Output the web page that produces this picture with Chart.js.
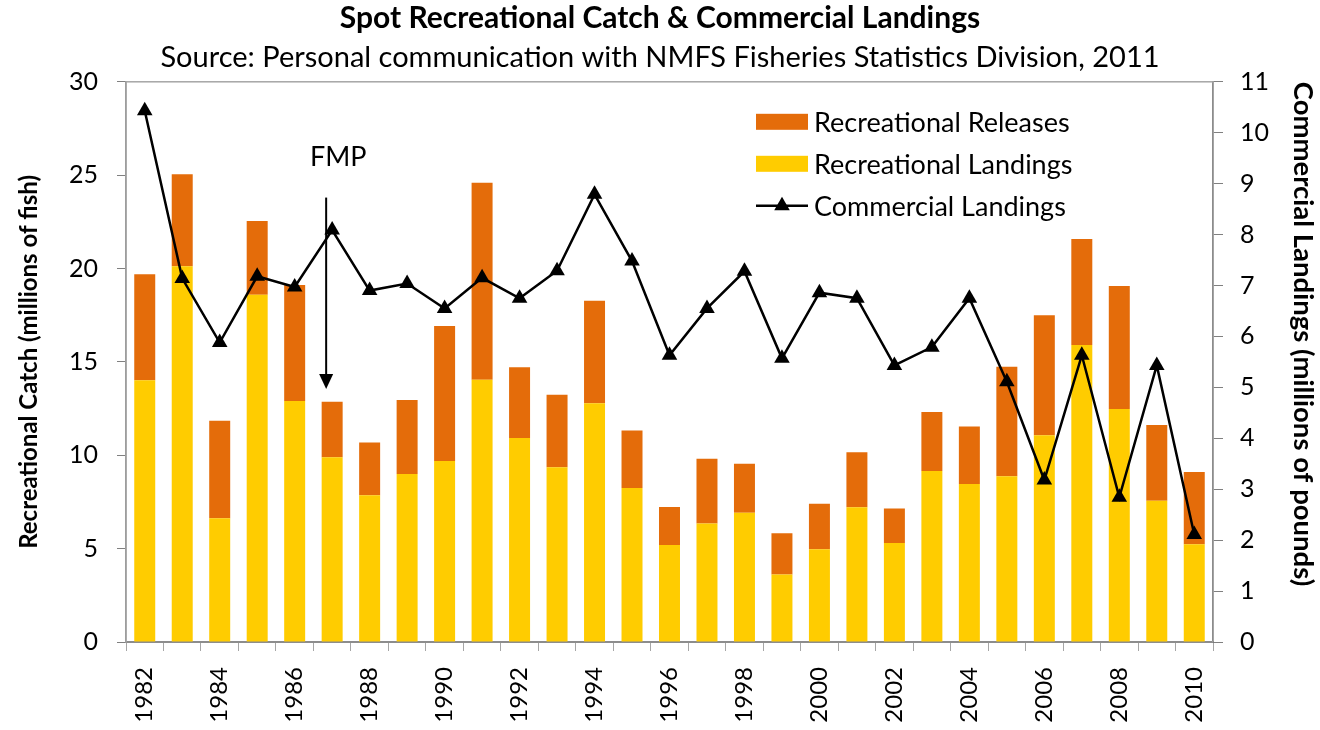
<!DOCTYPE html>
<html>
<head>
<meta charset="utf-8">
<script src="https://cdn.jsdelivr.net/npm/chart.js@4.4.1/dist/chart.umd.min.js"></script>
<style>
html,body{margin:0;padding:0;background:#fff;}
#wrap{width:1320px;height:730px;position:relative;}
</style>
</head>
<body>
<div id="wrap"><canvas id="c" width="1320" height="730"></canvas></div>
<script>
// ---- Data ----
const years = ['1982','1983','1984','1985','1986','1987','1988','1989','1990','1991','1992','1993','1994','1995','1996','1997','1998','1999','2000','2001','2002','2003','2004','2005','2006','2007','2008','2009','2010'];
const xTickLabels = ['1982','1984','1986','1988','1990','1992','1994','1996','1998','2000','2002','2004','2006','2008','2010'];
// Recreational landings (millions of fish)
const recLandings = [14.02, 20.12, 6.63, 18.60, 12.90, 9.90, 7.86, 9.00, 9.69, 14.05, 10.92, 9.36, 12.79, 8.25, 5.20, 6.34, 6.92, 3.61, 4.97, 7.21, 5.30, 9.16, 8.46, 8.87, 11.07, 15.90, 12.48, 7.56, 5.24];
// Recreational releases (millions of fish)
const recReleases = [5.67, 4.93, 5.22, 3.95, 6.22, 2.97, 2.82, 3.96, 7.23, 10.55, 3.80, 3.88, 5.48, 3.08, 2.03, 3.48, 2.63, 2.22, 2.44, 2.95, 1.85, 3.16, 3.08, 5.87, 6.43, 5.68, 6.58, 4.06, 3.86];
// Commercial landings (millions of pounds)
const commLandings = [10.43, 7.14, 5.88, 7.18, 6.97, 8.09, 6.90, 7.04, 6.55, 7.15, 6.75, 7.29, 8.79, 7.48, 5.63, 6.55, 7.28, 5.57, 6.86, 6.75, 5.43, 5.79, 6.75, 5.11, 3.18, 5.63, 2.84, 5.43, 2.11];
const leftTicks = [0, 5, 10, 15, 20, 25, 30];
const rightTicks = [0, 1, 2, 3, 4, 5, 6, 7, 8, 9, 10, 11];
const fmpYear = '1987';
const fmpArrow = {textAt: 25.95, from: 23.8, to: 13.55}; // in left-axis units

const FONT = 'Lato';
const ORANGE = '#E46C0A';
const YELLOW = '#FFCC00';

const borderPlugin = {
  id: 'plotBorder',
  beforeDatasetsDraw(chart) {
    const {ctx, chartArea: a} = chart;
    ctx.save();
    ctx.strokeStyle = '#a6a6a6';
    ctx.lineWidth = 1.5;
    ctx.strokeRect(a.left, a.top, a.right - a.left, a.bottom - a.top);
    ctx.restore();
  }
};

const fmpPlugin = {
  id: 'fmp',
  afterDatasetsDraw(chart) {
    const {ctx} = chart;
    const xs = chart.scales.x, ys = chart.scales.y;
    const cx = xs.getPixelForValue(years.indexOf(fmpYear));
    const ax = cx - 6;
    const y0 = ys.getPixelForValue(fmpArrow.from);
    const y1 = ys.getPixelForValue(fmpArrow.to);
    ctx.save();
    ctx.strokeStyle = '#000';
    ctx.fillStyle = '#000';
    ctx.lineWidth = 2;
    ctx.beginPath();
    ctx.moveTo(ax, y0);
    ctx.lineTo(ax, y1 - 12);
    ctx.stroke();
    ctx.beginPath();
    ctx.moveTo(ax - 7, y1 - 15);
    ctx.lineTo(ax + 7, y1 - 15);
    ctx.lineTo(ax, y1);
    ctx.closePath();
    ctx.fill();
    ctx.font = '27px ' + FONT;
    ctx.textAlign = 'center';
    ctx.textBaseline = 'middle';
    ctx.fillText('FMP', cx + 6, ys.getPixelForValue(fmpArrow.textAt));
    ctx.restore();
  }
};

const legendPlugin = {
  id: 'insideLegend',
  afterDraw(chart) {
    const {ctx, chartArea: a} = chart;
    const ds = chart.data.datasets;
    const items = [ds[1], ds[0], ds[2]];
    const left = a.left + 630, boxW = 52, boxH = 16, rowH = 42;
    let y = a.top + 40;
    ctx.save();
    ctx.font = '27px ' + FONT;
    ctx.textBaseline = 'middle';
    ctx.textAlign = 'left';
    items.forEach(d => {
      if (d.type === 'line') {
        ctx.strokeStyle = '#000';
        ctx.lineWidth = 2.5;
        ctx.beginPath();
        ctx.moveTo(left, y);
        ctx.lineTo(left + boxW, y);
        ctx.stroke();
        const r = 9, cx = left + boxW / 2;
        ctx.fillStyle = '#000';
        ctx.beginPath();
        ctx.moveTo(cx, y - r);
        ctx.lineTo(cx + r * 0.866, y + r / 2);
        ctx.lineTo(cx - r * 0.866, y + r / 2);
        ctx.closePath();
        ctx.fill();
      } else {
        ctx.fillStyle = d.backgroundColor;
        ctx.fillRect(left, y - boxH / 2, boxW, boxH);
      }
      ctx.fillStyle = '#000';
      ctx.fillText(d.label, left + boxW + 6, y + 1);
      y += rowH;
    });
    ctx.restore();
  }
};

new Chart(document.getElementById('c'), {
  type: 'bar',
  data: {
    labels: years,
    datasets: [
      {label: 'Recreational Landings', data: recLandings, backgroundColor: YELLOW, stack: 'rec', yAxisID: 'y', order: 2,
       categoryPercentage: 1.0, barPercentage: 0.56},
      {label: 'Recreational Releases', data: recReleases, backgroundColor: ORANGE, stack: 'rec', yAxisID: 'y', order: 2,
       categoryPercentage: 1.0, barPercentage: 0.56},
      {type: 'line', label: 'Commercial Landings', data: commLandings, yAxisID: 'y1', order: 0,
       borderColor: '#000', backgroundColor: '#000', borderWidth: 2.5, tension: 0,
       pointStyle: 'triangle', pointRadius: 9, pointHoverRadius: 9, pointBackgroundColor: '#000', pointBorderColor: '#000', pointBorderWidth: 0}
    ]
  },
  options: {
    responsive: false,
    animation: false,
    devicePixelRatio: 1,
    layout: {padding: 0},
    plugins: {
      legend: {display: false},
      tooltip: {enabled: false},
      title: {display: true, text: 'Spot Recreational Catch & Commercial Landings', color: '#000',
        font: {family: FONT, size: 30, weight: 'bold', lineHeight: 1.2}, padding: {top: 0, bottom: 0}},
      subtitle: {display: true, text: 'Source: Personal communication with NMFS Fisheries Statistics Division, 2011', color: '#000',
        font: {family: FONT, size: 29, weight: 'normal', lineHeight: 1.2}, padding: {top: 4, bottom: 7}}
    },
    scales: {
      x: {
        stacked: true,
        offset: true,
        grid: {offset: true, drawOnChartArea: false, drawTicks: true, tickLength: 9, color: '#a6a6a6', lineWidth: 1},
        border: {display: true, color: '#404040', width: 2},
        ticks: {autoSkip: false, maxRotation: 90, minRotation: 90, padding: 16, color: '#000',
          font: {family: FONT, size: 24},
          callback: function(v) { const l = this.getLabelForValue(v); return xTickLabels.includes(l) ? l : ''; }},
        afterFit: s => { s.height = 88; }
      },
      y: {
        stacked: true,
        position: 'left',
        min: leftTicks[0], max: leftTicks[leftTicks.length - 1],
        afterBuildTicks: s => { s.ticks = leftTicks.map(v => ({value: v})); },
        grid: {drawOnChartArea: false, drawTicks: true, tickLength: 9, color: '#808080'},
        border: {display: true, color: '#808080', width: 1.5},
        ticks: {padding: 19, color: '#000', font: {family: FONT, size: 25}},
        title: {display: true, text: 'Recreational Catch (millions of fish)', color: '#000',
          font: {family: FONT, size: 24, weight: 'bold', lineHeight: 1.2}, padding: {top: 15, bottom: 0}},
        afterFit: s => { s.width = 126; }
      },
      y1: {
        position: 'right',
        min: rightTicks[0], max: rightTicks[rightTicks.length - 1],
        afterBuildTicks: s => { s.ticks = rightTicks.map(v => ({value: v})); },
        grid: {drawOnChartArea: false, drawTicks: true, tickLength: 10, color: '#808080'},
        border: {display: true, color: '#404040', width: 1.5},
        ticks: {padding: 17, color: '#000', font: {family: FONT, size: 25}},
        title: {display: true, text: 'Commercial Landings (millions of pounds)', color: '#000', align: 'end',
          font: {family: FONT, size: 27.5, weight: 'bold', lineHeight: 1.2}, padding: {top: 1, bottom: 0}},
        afterFit: s => { s.width = 107; }
      }
    }
  },
  plugins: [borderPlugin, fmpPlugin, legendPlugin]
});
</script>
</body>
</html>
